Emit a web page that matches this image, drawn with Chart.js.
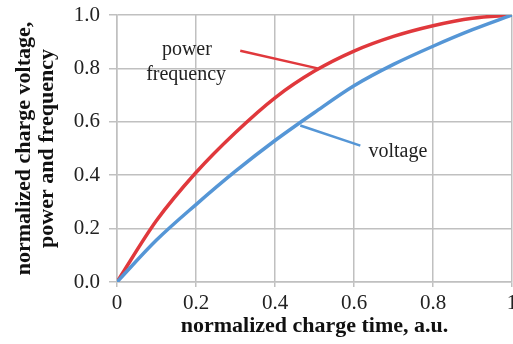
<!DOCTYPE html>
<html>
<head>
<meta charset="utf-8">
<script src="https://cdn.jsdelivr.net/npm/chart.js@4"></script>
<style>
  html, body { margin: 0; padding: 0; background: #fff; overflow: hidden; }
  #wrap { width: 513px; height: 344px; position: relative; }
</style>
</head>
<body>
<div id="wrap"><canvas id="grafico"></canvas></div>
<script>
const tempos = [0, 0.1, 0.2, 0.3, 0.4, 0.5, 0.6, 0.7, 0.8, 0.9, 1.0];
const tensao = [0, 0.157, 0.29, 0.415, 0.53, 0.635, 0.735, 0.815, 0.883, 0.945, 1.0];
const potenciaFreq = [0, 0.23, 0.41, 0.56, 0.69, 0.79, 0.865, 0.92, 0.96, 0.988, 1.0];
const ticksX = [0, 0.2, 0.4, 0.6, 0.8, 1];
const ticksY = [0, 0.2, 0.4, 0.6, 0.8, 1.0];

// pointer lines from the labels to the curves (data coords)
const setaPotX = [0.312, 0.508];
const setaPotY = [0.866, 0.80];
const setaTensaoX = [0.464, 0.616];
const setaTensaoY = [0.586, 0.511];

const vermelho = "#e0383c";
const azul = "#5596d6";
const grade = "#c0c0c0";
const serif = "'Liberation Serif', 'DejaVu Serif', serif";

const pontos = (xs, ys) => xs.map((x, i) => ({ x: x, y: ys[i] }));

const rotulos = [
    { texto: "power", x: 0.177, y: 0.869 },
    { texto: "frequency", x: 0.175, y: 0.775 },
    { texto: "voltage", x: 0.711, y: 0.487 }
];

const pluginRotulos = {
    id: "rotulos",
    afterDatasetsDraw(chart) {
        const ctx = chart.ctx;
        const sx = chart.scales.x, sy = chart.scales.y;
        ctx.save();
        ctx.font = "20px " + serif;
        ctx.fillStyle = "#222";
        ctx.textAlign = "center";
        ctx.textBaseline = "middle";
        rotulos.forEach(r => {
            ctx.fillText(r.texto, sx.getPixelForValue(r.x), sy.getPixelForValue(r.y));
        });
        ctx.restore();
    }
};

new Chart(document.getElementById("grafico"), {
    type: "line",
    data: {
        datasets: [
            { data: pontos(tempos, tensao), borderColor: azul, borderWidth: 3.5, cubicInterpolationMode: "monotone" },
            { data: pontos(tempos, potenciaFreq), borderColor: vermelho, borderWidth: 3.5, cubicInterpolationMode: "monotone" },
            { data: pontos(setaPotX, setaPotY), borderColor: vermelho, borderWidth: 2.5 },
            { data: pontos(setaTensaoX, setaTensaoY), borderColor: azul, borderWidth: 2.5 }
        ]
    },
    options: {
        responsive: true,
        maintainAspectRatio: false,
        animation: false,
        elements: { point: { radius: 0 } },
        layout: { padding: { top: 15, right: 1, bottom: 0, left: 0 } },
        plugins: { legend: { display: false }, tooltip: { enabled: false } },
        scales: {
            x: {
                type: "linear",
                min: 0,
                max: 1,
                afterBuildTicks: s => { s.ticks = ticksX.map(v => ({ value: v })); },
                afterFit: s => { s.height = 62; s.paddingLeft = 0; s.paddingRight = 0; },
                grid: { color: grade, lineWidth: 1.5, tickLength: 5 },
                border: { color: grade, width: 1.5 },
                ticks: {
                    padding: 4,
                    color: "#222",
                    font: { family: serif, size: 21 },
                    maxRotation: 0,
                    callback: v => v === 0 ? "0" : v === 1 ? "1" : v.toFixed(1)
                },
                title: {
                    display: true,
                    text: "normalized charge time, a.u.",
                    color: "#111",
                    font: { family: serif, size: 22, weight: "bold" },
                    padding: { top: 0, bottom: 4 }
                }
            },
            y: {
                min: 0,
                max: 1,
                afterBuildTicks: s => { s.ticks = ticksY.map(v => ({ value: v })); },
                afterFit: s => { s.width = 117; s.paddingTop = 0; s.paddingBottom = 0; },
                grid: { color: grade, lineWidth: 1.5, tickLength: 8 },
                border: { color: grade, width: 1.5 },
                ticks: {
                    padding: 9,
                    color: "#222",
                    font: { family: serif, size: 21 },
                    callback: v => v.toFixed(1)
                },
                title: {
                    display: true,
                    text: ["normalized charge voltage,", "power and frequency"],
                    color: "#111",
                    font: { family: serif, size: 22, weight: "bold", lineHeight: 1.05 },
                    padding: { top: 13, bottom: 0 }
                }
            }
        }
    },
    plugins: [pluginRotulos]
});
</script>
</body>
</html>
